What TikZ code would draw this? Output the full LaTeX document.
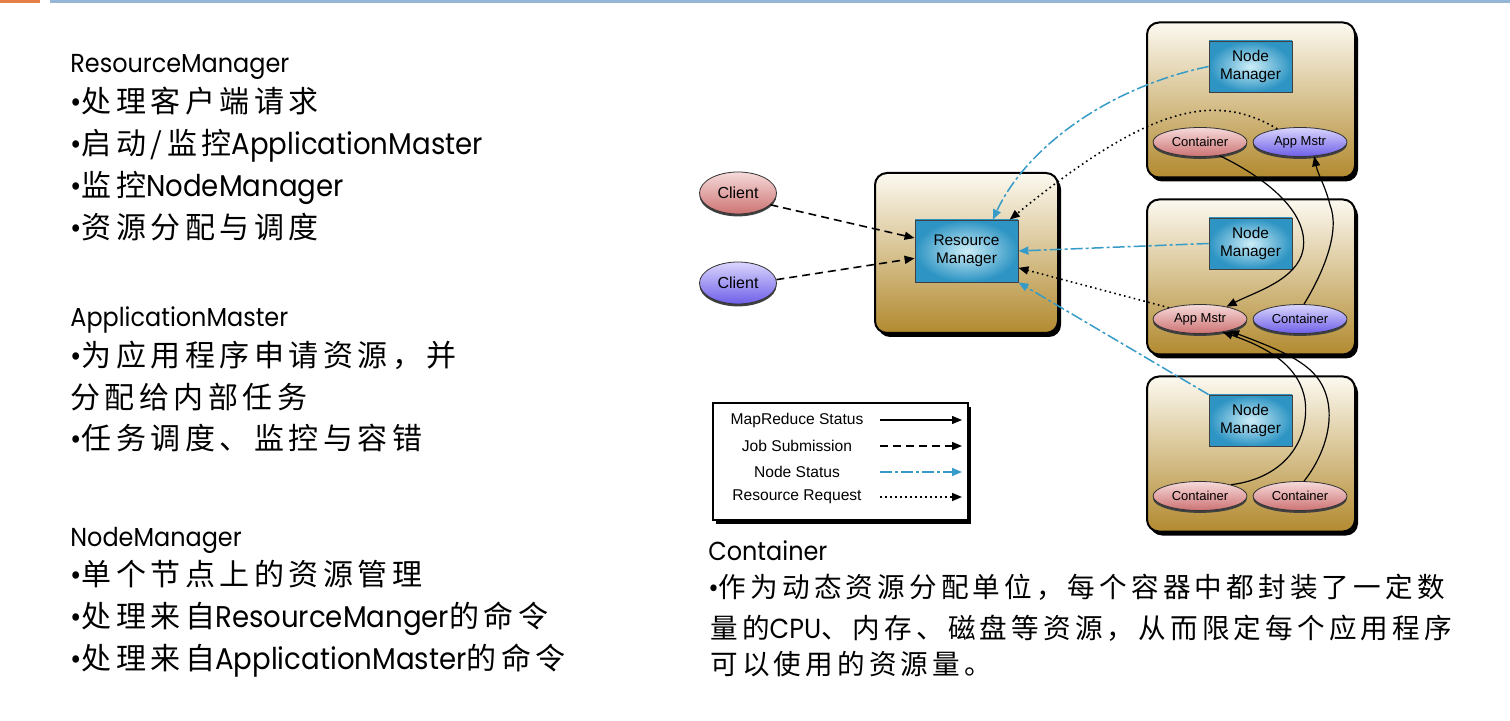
\documentclass[tikz,border=0pt]{standalone}
\usepackage{fontspec}
\setmainfont{Poppins}[FakeStretch=0.92]
\newfontfamily\cjk[LetterSpace=15]{Noto Sans CJK SC}
\newfontfamily\helv{Liberation Sans}
\usetikzlibrary{shapes.geometric,shadows,arrows.meta}

\definecolor{barorange}{RGB}{228,128,70}
\definecolor{barblue}{RGB}{150,182,215}
\definecolor{boxtop}{RGB}{252,249,240}
\definecolor{boxmid}{RGB}{226,204,150}
\definecolor{boxbot}{RGB}{178,138,48}
\definecolor{mgrblue}{RGB}{45,148,195}
\definecolor{mgrlight}{RGB}{205,238,248}
\definecolor{redell}{RGB}{205,115,115}
\definecolor{redlight}{RGB}{246,218,218}
\definecolor{blueell}{RGB}{110,95,232}
\definecolor{bluelight}{RGB}{218,214,252}
\definecolor{statusblue}{RGB}{55,155,200}

\newcommand\hdr{\fontsize{13}{15}\selectfont}
\newcommand\bul{\fontsize{15}{18}\selectfont}
\newcommand\ctsize{\fontsize{13.8}{17}\selectfont}

\tikzset{
  txt/.style={anchor=base west, inner sep=0pt},
  host/.style={draw=black, line width=1pt, rounded corners=6pt,
    top color=boxtop, middle color=boxmid, bottom color=boxbot,
    general shadow={fill=black, shadow xshift=1.5pt, shadow yshift=-2pt}},
  mgr/.style={draw=black!75, inner color=mgrlight, outer color=mgrblue,
    align=center, inner sep=0pt, font=\helv\fontsize{7.7}{9}\selectfont},
  proc/.style={ellipse, draw=black!80, minimum width=47pt, minimum height=14.5pt,
    inner sep=0pt, font=\helv\fontsize{6.5}{7}\selectfont,
    general shadow={fill=black!75, shadow yshift=-1.2pt}},
  redproc/.style={proc, top color=redlight, bottom color=redell},
  blueproc/.style={proc, top color=bluelight, bottom color=blueell},
  client/.style={proc, minimum width=38.5pt, minimum height=21pt,
    font=\helv\fontsize{8}{9}\selectfont},
  tip/.style={-{Triangle[length=5pt,width=4pt]}},
  status/.style={tip, line width=0.6pt},
  submit/.style={tip, line width=0.8pt, dash pattern=on 4pt off 2.5pt},
  nodestat/.style={tip, statusblue, line width=0.75pt,
    dash pattern=on 6pt off 1.5pt on 1.5pt off 1.5pt},
  request/.style={tip, line width=0.8pt, dash pattern=on 0.8pt off 1.7pt},
}

\begin{document}
\begin{tikzpicture}[x=0.5pt, y=-0.5pt]
    \useasboundingbox (0,0) rectangle (1510,721);

    % Title bar
    \fill[barorange] (0,0) rectangle (40,3.5);
    \fill[barblue] (50,0) rectangle (1510,3.5);

    % Left column text
    \node[txt, font=\hdr] (rmhead) at (70,73) {ResourceManager};
    \node[txt, font=\bul] (rm1) at (70,113) {•{\cjk 处理客户端请求}};
    \node[txt, font=\bul] (rm2) at (70,155) {•{\cjk 启动/监控}ApplicationMaster};
    \node[txt, font=\bul] (rm3) at (70,197) {•{\cjk 监控}NodeManager};
    \node[txt, font=\bul] (rm4) at (70,239) {•{\cjk 资源分配与调度}};

    \node[txt, font=\hdr] (amhead) at (70,327) {ApplicationMaster};
    \node[txt, font=\bul] (am1) at (70,367) {•{\cjk 为应用程序申请资源，并}};
    \node[txt, font=\bul] (am2) at (70,409) {{\cjk 分配给内部任务}};
    \node[txt, font=\bul] (am3) at (70,450) {•{\cjk 任务调度、监控与容错}};

    \node[txt, font=\hdr] (nmhead) at (70,546) {NodeManager};
    \node[txt, font=\bul] (nmt1) at (70,585) {•{\cjk 单个节点上的资源管理}};
    \node[txt, font=\bul] (nmt2) at (70,627) {•{\cjk 处理来自}ResourceManger{\cjk 的命令}};
    \node[txt, font=\bul] (nmt3) at (70,669) {•{\cjk 处理来自}ApplicationMaster{\cjk 的命令}};

    % Container text
    \node[txt, font=\hdr] (cthead) at (708,560) {Container};
    \node[txt, font=\ctsize] (ct1) at (708,597) {•{\cjk 作为动态资源分配单位，每个容器中都封装了一定数}};
    \node[txt, font=\ctsize] (ct2) at (710,638) {{\cjk 量的}CPU{\cjk 、内存、磁盘等资源，从而限定每个应用程序}};
    \node[txt, font=\ctsize] (ct3) at (710,674) {{\cjk 可以使用的资源量。}};

    % Resource manager and clients
    \node[host, minimum width=91.5pt, minimum height=80pt] (rmbox) at (966.5,253) {};
    \node[mgr, minimum width=51.5pt, minimum height=31pt] (rmgr) at (966.5,251) {Resource\\Manager};
    \node[client, top color=redlight, bottom color=redell] (client1) at (738,193) {Client};
    \node[client, top color=bluelight, bottom color=blueell] (client2) at (738,283) {Client};

    % Node hosts
    \foreach \n/\y/\la/\ca/\lb/\cb in {%
        1/100/Container/redproc/App Mstr/blueproc,%
        2/277/App Mstr/redproc/Container/blueproc,%
        3/454/Container/redproc/Container/redproc%
    } {
        \node[host, minimum width=104pt, minimum height=77.5pt] (host\n) at (1251,\y) {};
        \node[mgr, minimum width=41.5pt, minimum height=25.5pt] (nm\n) at (1250.5,\y-33.5) {Node\\Manager};
        \node[\ca] (left\n) at (1200,\y+42) {\la};
        \node[\cb] (right\n) at (1300,\y+42) {\lb};
    }

    % Job submission
    \draw[submit] (client1.-20) -- (rmgr.166);
    \draw[submit] (client2.5) -- (rmgr.188);

    % Node status
    \draw[nodestat] (nm1.west) .. controls (1105,88) and (1025,150) .. (rmgr.50);
    \draw[nodestat] (nm2.west) -- (rmgr.east);
    \draw[nodestat] (nm3.north west) -- (rmgr.south east);

    % Resource request
    \draw[request] (right1.150) .. controls (1215,92) and (1150,105) .. (rmgr.36);
    \draw[request] (left2.160) -- (rmgr.-18);

    % MapReduce status
    \draw[status] (left1.-35) .. controls (1260,175) and (1310,210) .. (1303,250)
        .. controls (1297,280) and (1255,292) .. (left2.25);
    \draw[status] (right2.75) .. controls (1325,270) and (1340,230) .. (1330,205)
        .. controls (1325,185) and (1318,175) .. (right1.-45);
    \draw[status] (left3.20) .. controls (1285,478) and (1310,440) .. (1305,400)
        .. controls (1300,370) and (1275,350) .. (left2.-30);
    \draw[status] (right3.75) .. controls (1325,455) and (1338,415) .. (1322,385)
        .. controls (1310,362) and (1280,350) .. (left2.-22);

    % Legend
    \node[draw=black, line width=0.8pt, fill=white, minimum width=127.5pt, minimum height=58.5pt,
        general shadow={fill=black, shadow xshift=1.5pt, shadow yshift=-2pt}] (legend) at (840.5,461.5) {};
    \foreach \i/\lab/\sty/\y in {%
        1/MapReduce Status/status/420,%
        2/Job Submission/submit/446,%
        3/Node Status/nodestat/472,%
        4/Resource Request/request/497%
    } {
        \node[font=\helv\fontsize{7.8}{9}\selectfont, inner sep=0pt] (lab\i) at (797,\y) {\lab};
        \coordinate (from\i) at (880,\y);
        \coordinate (to\i) at (962,\y);
        \draw[\sty] (from\i) -- (to\i);
    }
\end{tikzpicture}
\end{document}
